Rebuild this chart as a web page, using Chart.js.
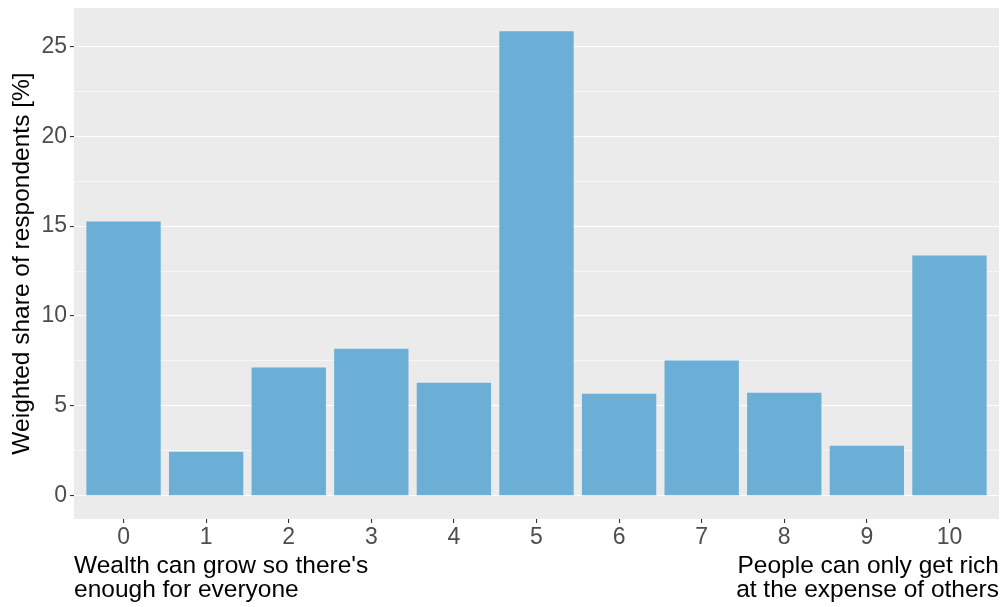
<!DOCTYPE html>
<html><head><meta charset="utf-8">
<script src="https://cdn.jsdelivr.net/npm/chart.js@4"></script>
<style>html,body{margin:0;padding:0;background:#fff}#wrap{width:1003px;height:607px;position:relative}</style>
</head><body><div id="wrap"><canvas id="c" width="1003" height="607"></canvas></div>
<script>
const categories = [0,1,2,3,4,5,6,7,8,9,10];
const shares = [15.26,2.45,7.13,8.18,6.29,25.83,5.68,7.52,5.73,2.78,13.36];
const yTicks = [0,2.5,5,7.5,10,12.5,15,17.5,20,22.5,25];
const yTitle = 'Weighted share of respondents [%]';
const leftNote = ["Wealth can grow so there's", 'enough for everyone'];
const rightNote = ['People can only get rich', 'at the expense of others'];

const FONT = '"Liberation Sans", Arial, sans-serif';
const bgPlugin = {
  id:'bg',
  beforeDraw(chart){
    const {ctx, chartArea:a} = chart;
    ctx.save(); ctx.fillStyle='#EBEBEB';
    ctx.fillRect(a.left, a.top, a.right-a.left, a.bottom-a.top); ctx.restore();
  },
  afterDraw(chart){
    const {ctx, chartArea:a} = chart;
    ctx.save(); ctx.fillStyle='#000'; ctx.font = '24.5px '+FONT;
    ctx.textBaseline='alphabetic';
    ctx.textAlign='left';
    ctx.fillText(leftNote[0], a.left, a.bottom+54);
    ctx.fillText(leftNote[1], a.left, a.bottom+78);
    ctx.textAlign='right';
    ctx.fillText(rightNote[0], a.right, a.bottom+54);
    ctx.fillText(rightNote[1], a.right, a.bottom+78);
    ctx.restore();
  }
};
new Chart(document.getElementById('c'), {
  type:'bar',
  data:{ datasets:[{ data: categories.map((c,i)=>({x:c,y:shares[i]})), backgroundColor:'#6BAED6', borderWidth:0,
    barPercentage:0.9, categoryPercentage:1 }]},
  options:{
    responsive:false, animation:false,
    layout:{padding:{top:8,right:4,left:0,bottom:0}},
    plugins:{legend:{display:false}, tooltip:{enabled:false}},
    scales:{
      x:{ type:'linear', min:-0.6, max:10.6, offset:false,
        afterBuildTicks(s){ s.ticks = categories.map(v=>({value:v})); },
        afterFit(s){ s.height = 88; s.paddingLeft = 0; s.paddingRight = 0; },
        grid:{ offset:false, drawOnChartArea:false, drawTicks:true, tickLength:4, tickColor:'#333', lineWidth:1.1 },
        border:{display:false},
        ticks:{ color:'#4D4D4D', font:{family:FONT,size:23}, padding:1, maxRotation:0, autoSkip:false }
      },
      y:{ min:-1.29, max:27.13,
        afterBuildTicks(s){ s.ticks = yTicks.map(v=>({value:v})); },
        afterFit(s){ s.width = 74; s.paddingTop = 0; s.paddingBottom = 0; },
        grid:{ color:'#fff', lineWidth: c => (c.tick && c.tick.value%5===0) ? 1.1 : 0.55,
          tickColor: c => (c.tick && c.tick.value%5===0) ? '#333' : 'rgba(0,0,0,0)', tickLength:4 },
        border:{display:false},
        ticks:{ color:'#4D4D4D', font:{family:FONT,size:23}, padding:3, autoSkip:false,
          callback:v => v%5===0 ? String(v) : '' },
        title:{ display:true, text:yTitle, color:'#000', font:{family:FONT,size:24.5}, padding:{top:8,bottom:0} }
      }
    }
  },
  plugins:[bgPlugin]
});
</script></body></html>
